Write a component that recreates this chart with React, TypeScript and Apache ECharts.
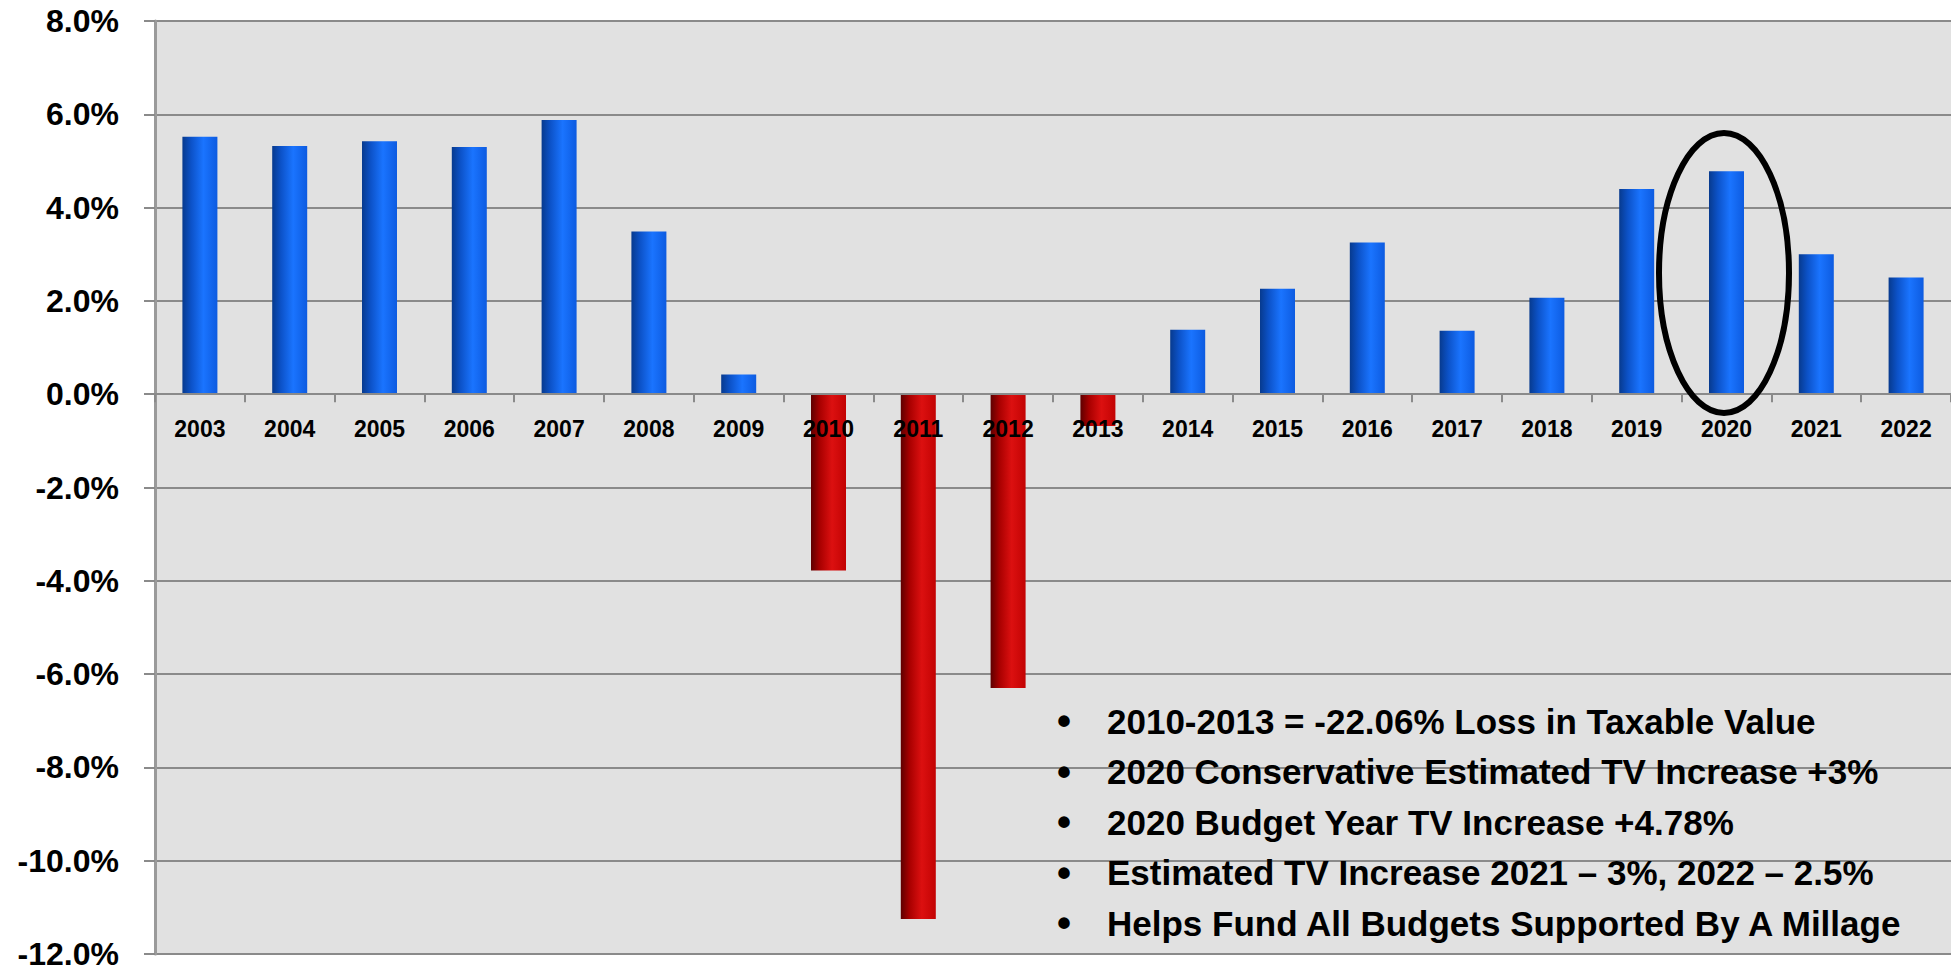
import React, { useEffect, useRef } from "react";
import * as echarts from "echarts";

const years = ["2003","2004","2005","2006","2007","2008","2009","2010","2011","2012","2013","2014","2015","2016","2017","2018","2019","2020","2021","2022"];
const changePct = [5.52, 5.32, 5.42, 5.30, 5.88, 3.49, 0.42, -3.78, -11.25, -6.30, -0.68, 1.38, 2.26, 3.25, 1.36, 2.07, 4.40, 4.78, 3.00, 2.50];
const notes = [
  "2010-2013 = -22.06% Loss in Taxable Value",
  "2020 Conservative Estimated TV Increase +3%",
  "2020 Budget Year TV Increase +4.78%",
  "Estimated TV Increase 2021 \u2013 3%, 2022 \u2013 2.5%",
  "Helps Fund All Budgets Supported By A Millage",
];
const yMin = -12;
const yMax = 8;
const yStep = 2;

const FONT = "'Liberation Sans', Arial, sans-serif";

const GRID_TOP = 21;
const GRID_H = 933;
const zeroOffset = -GRID_H * (0 - yMin) / (yMax - yMin);

const blueGrad = () => new echarts.graphic.LinearGradient(0, 0, 1, 0, [
  { offset: 0, color: "#073a8e" },
  { offset: 0.25, color: "#0c52c8" },
  { offset: 0.6, color: "#1a74ff" },
  { offset: 1, color: "#0d5be0" },
]);
const redGrad = () => new echarts.graphic.LinearGradient(0, 0, 1, 0, [
  { offset: 0, color: "#5e0000" },
  { offset: 0.25, color: "#a80000" },
  { offset: 0.6, color: "#dc1010" },
  { offset: 1, color: "#c20303" },
]);

export default function App() {
  const ref = useRef<HTMLDivElement>(null);
  useEffect(() => {
    if (!ref.current) return;
    const chart = echarts.init(ref.current, null, { renderer: "svg" });
    const noteY0 = 721;
    const noteDy = 50.5;
    const graphics: any[] = [];
    notes.forEach((t, i) => {
      graphics.push({
        type: "text",
        x: 1064,
        y: noteY0 + i * noteDy,
        z: 100,
        style: { text: "\u2022", font: `bold 40px ${FONT}`, fill: "#000", textAlign: "center", textVerticalAlign: "middle" },
      });
      graphics.push({
        type: "text",
        x: 1107,
        y: noteY0 + i * noteDy,
        z: 100,
        style: { text: t, font: `bold 35px ${FONT}`, fill: "#000", textAlign: "left", textVerticalAlign: "middle" },
      });
    });
    graphics.push({
      type: "ellipse",
      z: 100,
      shape: { cx: 1724, cy: 273, rx: 65, ry: 140 },
      style: { fill: "none", stroke: "#000", lineWidth: 6 },
    });
    chart.setOption({
      animation: false,
      backgroundColor: "#ffffff",
      grid: {
        left: 155, top: GRID_TOP, width: 1800, height: GRID_H,
        show: true, backgroundColor: "#e1e1e1", borderWidth: 0,
      },
      xAxis: {
        type: "category",
        data: years,
        z: 10,
        position: "bottom",
        offset: zeroOffset,
        axisLine: { onZero: false, lineStyle: { color: "#8a8a8a", width: 2 } },
        axisTick: { show: true, length: 8, lineStyle: { color: "#8a8a8a", width: 2 } },
        axisLabel: { color: "#000", fontFamily: FONT, fontWeight: "bold", fontSize: 23, margin: 23 },
        splitLine: { show: false },
      },
      yAxis: {
        type: "value",
        min: yMin, max: yMax, interval: yStep,
        axisLine: { show: true, lineStyle: { color: "#9a9a9a", width: 3 } },
        axisTick: { show: true, length: 11, lineStyle: { color: "#8a8a8a", width: 2 } },
        axisLabel: {
          color: "#000", fontFamily: FONT, fontWeight: "bold", fontSize: 32, margin: 36, lineHeight: 26,
          formatter: (v: number) => v.toFixed(1) + "%",
        },
        splitLine: { show: true, lineStyle: { color: "#8a8a8a", width: 2 } },
      },
      series: [{
        type: "bar",
        barWidth: 35,
        data: changePct.map((v) => ({ value: v, itemStyle: { color: v < 0 ? redGrad() : blueGrad() } })),
      }],
      graphic: graphics,
    });
    return () => chart.dispose();
  }, []);
  return <div ref={ref} style={{ position: "fixed", left: 0, top: 0, width: 1951, height: 973 }} />;
}
